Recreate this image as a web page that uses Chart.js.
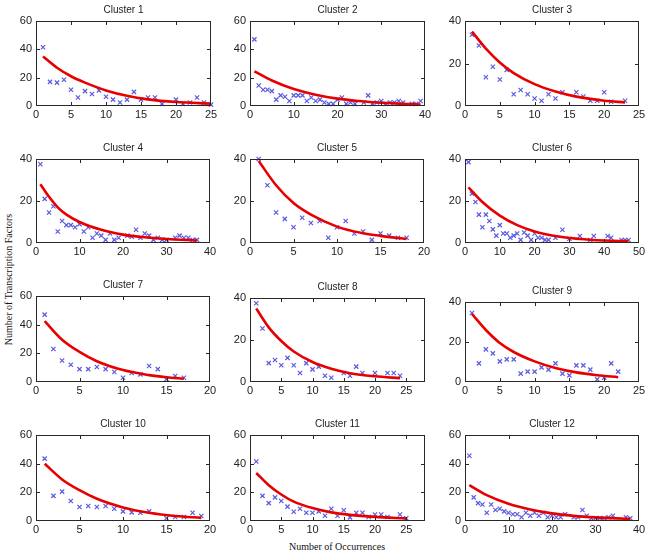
<!DOCTYPE html>
<html><head><meta charset="utf-8">
<script src="https://cdn.jsdelivr.net/npm/chart.js@4/dist/chart.umd.min.js"></script>
<style>
html,body{margin:0;padding:0;background:#fff;}
body{width:649px;height:557px;position:relative;overflow:hidden;}
canvas{position:absolute;}
.lab{position:absolute;font-family:"Liberation Serif",serif;font-size:10px;color:#111;text-align:center;white-space:nowrap;}
</style>
</head><body>
<div class="lab" style="left:-92px;top:274px;width:200px;transform:rotate(-90deg);">Number of Transcription Factors</div>
<div class="lab" style="left:237px;top:541px;width:200px;">Number of Occurrences</div>
<script>
// ---- data ----
const titles = ["Cluster 1","Cluster 2","Cluster 3","Cluster 4","Cluster 5","Cluster 6","Cluster 7","Cluster 8","Cluster 9","Cluster 10","Cluster 11","Cluster 12"];
const xMaxes = [25,40,25,40,20,50,20,28,25,20,28,40];
const xSteps = [5,10,5,10,5,10,5,5,5,5,5,10];
const yMaxes = [60,60,40,40,40,40,60,40,40,60,60,60];
const yStep = 20;

const c1X = [1,2,3,4,5,6,7,8,9,10,11,12,13,14,15,16,17,18,20,21,22,23,24,25];
const c1Y = [41.5,17,16.5,18.5,11.5,6,10.5,8.5,11,6.5,4.5,2.5,4.5,10,4.5,6,6,1.5,4.5,1.5,2.5,6,2.5,1];
const c1FitX = [1,3,5,7,10,13,16,20,25];
const c1FitY = [35,27,21,16.5,11,7.2,4.7,2.8,1.7];

const c2X = [1,2,3,4,5,6,7,8,9,10,11,12,13,14,15,16,17,18,19,20,21,22,23,24,26,27,28,29,30,31,32,33,34,35,37,38,39];
const c2Y = [47,14.5,11.5,11.5,10.5,4.5,7.5,6.5,3.5,7.5,7.5,7.5,3.5,6,3.5,4.5,2.5,1.5,1.5,4.5,6,1.5,2.5,1.5,2.5,7.5,1.5,2.5,3.5,1.5,2.5,2.5,3.5,2.5,1.5,1.5,3.5];
const c2FitX = [1,5,10,15,20,25,30,35,39];
const c2FitY = [24.5,18,12,8,5.2,3.5,2.3,1.5,1.1];

const c3X = [1,2,3,4,5,6,7,8,9,10,11,12,13,14,16,17,18,19,20,21,23];
const c3Y = [33.5,28.5,13.5,18.5,12.5,17,5.5,7.5,5.5,3.5,2.5,5.5,3.5,6.5,6.5,4.5,2.5,2.5,6.5,2,2.5];
const c3FitX = [1,3,5,7,10,13,16,20,23];
const c3FitY = [35,27,20.5,15.5,10.3,6.8,4.4,2.5,1.7];

const c4X = [1,2,3,4,5,6,7,8,9,10,11,12,13,14,15,16,17,18,19,21,22,23,24,25,26,27,28,29,30,32,33,34,35,36,37];
const c4Y = [37.5,21,14.5,17.5,5.5,10.5,8.5,8.5,7.5,9,5.5,7.5,2.5,4.5,3.5,1.5,4.5,1.5,2.5,3.5,3,6.3,2.5,4.5,3.5,1.5,2.5,1.5,1.5,2.5,3.5,2.5,2.5,1.5,1.5];
const c4FitX = [1,3,5,7,10,15,20,25,30,37];
const c4FitY = [28,22,17,13.5,10,6.3,4,2.7,1.9,1.2];

const c5X = [1,2,3,4,5,6,7,8,9,10,11,12,13,14,15,16,17,18];
const c5Y = [40,27.5,14.5,11.5,7.5,12,9.5,10.5,2.5,7.5,10.5,4.5,5.5,1.5,4.5,3.5,2.5,2.5];
const c5FitX = [1,3,5,7,10,13,15,18];
const c5FitY = [39,27.5,19,13.5,7.8,4.6,3.4,1.9];

const c6X = [1,2,3,4,5,6,7,8,9,10,11,12,13,14,15,16,17,18,19,20,21,22,23,24,26,28,30,33,36,37,41,42,45,46,47];
const c6Y = [38.5,23.5,19.5,13.5,7.5,13.5,10.5,6.5,3.5,8.5,4.5,4.5,2.5,3.5,4.5,1.5,5,3.5,1.5,4.5,2.5,2.5,1.5,1.5,2.5,6.3,2,3.3,1.4,3.3,3.3,2.5,1.4,1.4,1.4];
const c6FitX = [1,5,10,15,20,25,30,35,40,47];
const c6FitY = [26.5,19.5,13,8.5,5.5,3.6,2.4,1.7,1.2,0.9];

const c7X = [1,2,3,4,5,6,7,8,9,10,11,12,13,14,15,16,17];
const c7Y = [47,23,15,12,9,9,10.5,9,7,3,6.3,5.3,11.2,9,2,4.2,3];
const c7FitX = [1,3,5,7,10,13,15,17];
const c7FitY = [42.5,29.5,21,14.5,8.3,4.8,3.3,2.3];

const c8X = [1,2,3,4,5,6,7,8,9,10,11,12,13,15,16,17,18,20,22,23,24];
const c8Y = [37.5,25.5,9,10.5,8,11.5,8,4.3,9,6,7.3,3,2,4.3,3,7.3,4.3,4.3,4.3,4.3,3];
const c8FitX = [1,3,5,7,10,13,16,20,24];
const c8FitY = [35,26,19.5,14.5,9.5,6.3,4.2,2.7,1.8];

const c9X = [1,2,3,4,5,6,7,8,9,10,11,12,13,14,15,16,17,18,19,20,21,22];
const c9Y = [34.5,9.3,16.3,14.3,10.3,11.3,11.3,4.2,5.2,5.2,7.3,6.2,9.3,4.2,3.3,8.3,8.3,6.2,1.3,2.2,9.3,5.2];
const c9FitX = [1,3,5,7,10,13,16,19,22];
const c9FitY = [34,26,19.5,15,10.3,7,4.8,3.4,2.4];

const c10X = [1,2,3,4,5,6,7,8,9,10,11,12,13,15,16,17,18,19];
const c10Y = [43.5,17.5,20.5,14,9.8,10.5,9.8,10.5,8.5,6.7,6,5.8,6.7,1.9,2.8,2.8,5.8,3.5];
const c10FitX = [1,3,5,7,10,13,16,19];
const c10FitY = [40,29,21.5,15.5,9.5,5.8,3.5,2.2];

const c11X = [1,2,3,4,5,6,7,8,9,10,11,12,13,14,15,16,17,18,19,20,21,22,24,25];
const c11Y = [41.5,17.5,12.5,16.5,14,10,6.5,8.5,5.8,5.8,6.7,3.7,8.5,3.7,7.5,2.5,5.8,5.8,2.8,4.5,4.5,2.8,4.5,1.9];
const c11FitX = [1,3,5,7,10,13,16,20,25];
const c11FitY = [33.5,25,18.5,13.5,9,6,4.3,2.9,1.8];

const c12X = [1,2,3,4,5,6,7,8,9,10,11,12,13,14,15,16,17,18,19,20,21,22,23,25,26,27,28,29,30,31,32,33,34,37,38];
const c12Y = [45.5,16.5,12.5,11.5,5.8,11.5,7.7,8.5,6.7,5.8,4.7,4.7,2.6,5.8,3.7,5.8,3.7,5.8,2.6,3.7,2.6,2.6,4.7,2.6,2.6,7.7,3.7,1.9,1.9,2,1.9,2.6,3.7,2.6,1.9];
const c12FitX = [1,5,10,15,20,25,30,35,38];
const c12FitY = [25,18,12,8,5.3,3.6,2.5,1.8,1.5];

const scatterX = [c1X,c2X,c3X,c4X,c5X,c6X,c7X,c8X,c9X,c10X,c11X,c12X];
const scatterY = [c1Y,c2Y,c3Y,c4Y,c5Y,c6Y,c7Y,c8Y,c9Y,c10Y,c11Y,c12Y];
const fitX = [c1FitX,c2FitX,c3FitX,c4FitX,c5FitX,c6FitX,c7FitX,c8FitX,c9FitX,c10FitX,c11FitX,c12FitX];
const fitY = [c1FitY,c2FitY,c3FitY,c4FitY,c5FitY,c6FitY,c7FitY,c8FitY,c9FitY,c10FitY,c11FitY,c12FitY];

// ---- layout: plot-area rectangles [left, top, width, height] ----
const plotRects = [
  [36,21,175,85],[250,21,175,85],[465,21,174,85],
  [36,159,174,84],[250,159,174,84],[465,159,174,84],
  [36,296,174,86],[250,298,175,84],[465,302,174,80],
  [36,435,174,86],[250,435,175,86],[465,435,174,86]
];
const AXW = 30, TITLEH = 21, XAXH = 16, RPAD = 10, TICK = 3;
const FRAME = 'rgb(40,40,40)';
const tickFont = {family: 'Liberation Sans', size: 11};

// axes box with inward tick marks, drawn from the chart's own scales
const boxPlugin = {
  id: 'axesBox',
  afterDraw(chart) {
    const ctx = chart.ctx, a = chart.chartArea;
    const x = chart.scales.x, y = chart.scales.y;
    const L = Math.round(a.left), T = Math.round(a.top);
    const R = Math.round(a.right) - 1, B = Math.round(a.bottom) - 1;
    ctx.save();
    ctx.fillStyle = FRAME;
    ctx.fillRect(L, T, R - L + 1, 1);
    ctx.fillRect(L, B, R - L + 1, 1);
    ctx.fillRect(L, T, 1, B - T + 1);
    ctx.fillRect(R, T, 1, B - T + 1);
    x.ticks.forEach(tk => {
      const px = Math.min(Math.round(x.getPixelForValue(tk.value)), R);
      ctx.fillRect(px, B - TICK, 1, TICK);
      ctx.fillRect(px, T + 1, 1, TICK);
    });
    y.ticks.forEach(tk => {
      const py = Math.min(Math.round(y.getPixelForValue(tk.value)), B);
      ctx.fillRect(L + 1, py, TICK, 1);
      ctx.fillRect(R - TICK, py, TICK, 1);
    });
    ctx.restore();
  }
};

for (let i = 0; i < 12; i++) {
  const [pl, pt, pw, ph] = plotRects[i];
  const cv = document.createElement('canvas');
  const W = AXW + pw + RPAD, H = TITLEH + ph + XAXH;
  cv.width = W; cv.height = H;
  cv.style.left = (pl - AXW) + 'px';
  cv.style.top = (pt - TITLEH) + 'px';
  cv.style.width = W + 'px'; cv.style.height = H + 'px';
  document.body.appendChild(cv);
  const step = xSteps[i];
  const keepSteps = s => { s.ticks = s.ticks.filter(t => Math.abs(t.value % step) < 1e-9); };
  const pts = scatterX[i].map((v, k) => ({x: v, y: scatterY[i][k]}));
  const fit = fitX[i].map((v, k) => ({x: v, y: fitY[i][k]}));
  new Chart(cv, {
    type: 'line',
    data: { datasets: [
      { data: fit, borderColor: 'rgb(232,0,0)', borderWidth: 2.6, pointRadius: 0,
        tension: 0.4, cubicInterpolationMode: 'monotone', fill: false },
      { data: pts, showLine: false, pointStyle: 'crossRot', pointRadius: 3,
        pointBorderWidth: 1.2, borderColor: 'rgb(90,90,225)', pointBorderColor: 'rgb(90,90,225)',
        backgroundColor: 'rgb(90,90,225)', clip: false }
    ]},
    options: {
      responsive: false, animation: false, devicePixelRatio: 1,
      events: [],
      layout: { autoPadding: false, padding: {left: 0, top: 0, right: RPAD, bottom: 0} },
      plugins: {
        legend: {display: false}, tooltip: {enabled: false},
        title: { display: true, text: titles[i], fullSize: false, color: '#222',
          font: {family: 'Liberation Sans', size: 10, weight: 'normal', lineHeight: 1.2},
          padding: {top: 4, bottom: 5} }
      },
      scales: {
        x: { type: 'linear', position: 'bottom', min: 0, max: xMaxes[i],
          afterBuildTicks: keepSteps,
          afterFit: s => { s.height = XAXH; },
          grid: {display: false, drawTicks: false}, border: {display: false},
          ticks: { stepSize: step, maxRotation: 0, autoSkip: false, padding: 2, color: '#222', font: tickFont } },
        y: { type: 'linear', position: 'left', min: 0, max: yMaxes[i],
          afterFit: s => { s.width = AXW; },
          grid: {display: false, drawTicks: false}, border: {display: false},
          ticks: { stepSize: yStep, padding: 4, color: '#222', font: tickFont } }
      }
    },
    plugins: [boxPlugin]
  });
}
</script>
</body></html>
